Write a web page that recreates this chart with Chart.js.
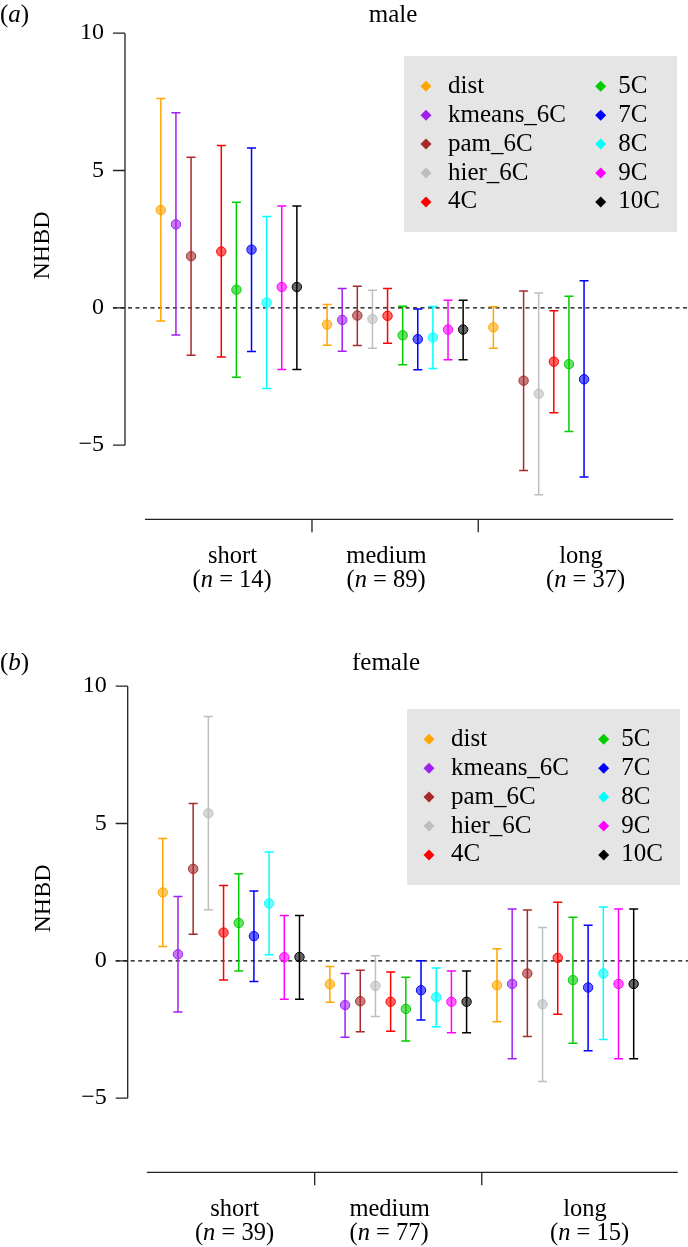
<!DOCTYPE html>
<html lang="en">
<head>
<meta charset="UTF-8">
<title>NHBD by distance class</title>
<script src="https://cdn.jsdelivr.net/npm/chart.js@4"></script>
<style>
    html, body { margin: 0; padding: 0; background: #ffffff; overflow: hidden; }
    .panel { position: absolute; left: 0; }
    #maleBox { top: 0; }
    #femaleBox { top: 653px; }
    canvas { display: block; }
</style>
</head>
<body>
<div class="panel" id="maleBox"><canvas id="maleChart" width="688" height="653"></canvas></div>
<div class="panel" id="femaleBox"><canvas id="femaleChart" width="688" height="594"></canvas></div>
<script>
    // groups along the x axis and sample sizes
    const groups = ['short', 'medium', 'long'];
    const maleN = [14, 89, 37];
    const femaleN = [39, 77, 15];

    const seriesNames = ['dist', 'kmeans_6C', 'pam_6C', 'hier_6C', '4C', '5C', '7C', '8C', '9C', '10C'];
    const seriesColors = ['#FFA500', '#A020F0', '#A52A2A', '#BEBEBE', '#FF0000', '#00CD00', '#0000FF', '#00FFFF', '#FF00FF', '#000000'];
    const yTicks = [-5, 0, 5, 10];

    // one row per series, one column per group (short, medium, long); null = not estimated
    const maleMid = [
        [3.56, -0.61, -0.71],
        [3.04, -0.44, null],
        [1.88, -0.28, -2.65],
        [null, -0.41, -3.13],
        [2.05, -0.29, -1.96],
        [0.66, -1.00, -2.05],
        [2.12, -1.14, -2.60],
        [0.19, -1.08, null],
        [0.76, -0.79, null],
        [0.76, -0.79, null]
    ];
    const maleLow = [
        [-0.48, -1.36, -1.47],
        [-0.99, -1.58, null],
        [-1.73, -1.37, -5.92],
        [null, -1.47, -6.80],
        [-1.79, -1.29, -3.82],
        [-2.53, -2.07, -4.50],
        [-1.59, -2.25, -6.16],
        [-2.94, -2.21, null],
        [-2.24, -1.89, null],
        [-2.24, -1.89, null]
    ];
    const maleHigh = [
        [7.62, 0.12, 0.04],
        [7.10, 0.70, null],
        [5.48, 0.79, 0.61],
        [null, 0.64, 0.54],
        [5.91, 0.70, -0.11],
        [3.84, 0.06, 0.42],
        [5.82, -0.04, 0.99],
        [3.33, 0.05, null],
        [3.71, 0.28, null],
        [3.71, 0.28, null]
    ];

    const femaleMid = [
        [2.49, -0.85, -0.89],
        [0.24, -1.61, -0.84],
        [3.35, -1.47, -0.46],
        [5.37, -0.91, -1.58],
        [1.03, -1.49, 0.11],
        [1.38, -1.75, -0.70],
        [0.90, -1.07, -0.97],
        [2.09, -1.32, -0.46],
        [0.13, -1.49, -0.84],
        [0.14, -1.49, -0.84]
    ];
    const femaleLow = [
        [0.52, -1.51, -2.22],
        [-1.86, -2.78, -3.56],
        [0.97, -2.58, -2.75],
        [1.86, -2.03, -4.39],
        [-0.70, -2.56, -1.94],
        [-0.37, -2.92, -3.00],
        [-0.75, -2.15, -3.27],
        [0.22, -2.40, -2.86],
        [-1.40, -2.62, -3.56],
        [-1.40, -2.62, -3.56]
    ];
    const femaleHigh = [
        [4.45, -0.21, 0.44],
        [2.34, -0.46, 1.89],
        [5.73, -0.34, 1.85],
        [8.90, 0.19, 1.21],
        [2.74, -0.41, 2.13],
        [3.17, -0.60, 1.59],
        [2.54, 0.00, 1.30],
        [3.96, -0.26, 1.96],
        [1.65, -0.37, 1.89],
        [1.65, -0.37, 1.89]
    ];

    const FONT = "'Liberation Serif', 'Times New Roman', serif";
    const SLOTS_PER_GROUP = 11; // 10 series + 1 gap

    function fade(hex, a) {
        const n = parseInt(hex.slice(1), 16);
        return `rgba(${n >> 16}, ${(n >> 8) & 255}, ${n & 255}, ${a})`;
    }

    function buildDatasets(mid, lo, hi) {
        return seriesNames.map((name, s) => ({
            label: name,
            data: groups.map((g, gi) => mid[s][gi] === null ? null :
                { x: gi * SLOTS_PER_GROUP + s, y: mid[s][gi], lo: lo[s][gi], hi: hi[s][gi] }).filter(p => p),
            backgroundColor: fade(seriesColors[s], 0.6),
            borderColor: seriesColors[s],
            pointRadius: 4.7,
            pointBorderWidth: 1,
            showLine: false
        }));
    }

    // text made of upright / italic pieces
    function drawMixed(ctx, parts, x, y, align, size) {
        const widths = parts.map(([t, it]) => { ctx.font = (it ? 'italic ' : '') + size + 'px ' + FONT; return ctx.measureText(t).width; });
        const total = widths.reduce((a, b) => a + b, 0);
        let cx = align === 'center' ? x - total / 2 : x;
        ctx.textAlign = 'left';
        parts.forEach(([t, it], i) => {
            ctx.font = (it ? 'italic ' : '') + size + 'px ' + FONT;
            ctx.fillText(t, cx, y);
            cx += widths[i];
        });
    }

    const decorPlugin = {
        id: 'decor',
        beforeDatasetsDraw(chart, args, o) {
            const ctx = chart.ctx, ys = chart.scales.y;
            const y0 = ys.getPixelForValue(0);
            ctx.save();
            ctx.strokeStyle = '#000';
            ctx.lineWidth = 1.2;
            ctx.setLineDash([4, 3.5]);
            ctx.beginPath();
            ctx.moveTo(o.axisX - 12, y0);
            ctx.lineTo(chart.width, y0);
            ctx.stroke();
            ctx.restore();
        },
        afterDatasetsDraw(chart) {
            const ctx = chart.ctx, xs = chart.scales.x, ys = chart.scales.y;
            chart.data.datasets.forEach(ds => {
                ctx.save();
                ctx.strokeStyle = ds.borderColor;
                ctx.lineWidth = 1.5;
                ds.data.forEach(p => {
                    const px = xs.getPixelForValue(p.x);
                    const yl = ys.getPixelForValue(p.lo), yh = ys.getPixelForValue(p.hi);
                    ctx.beginPath();
                    ctx.moveTo(px, yh); ctx.lineTo(px, yl);
                    ctx.moveTo(px - 4.5, yh); ctx.lineTo(px + 4.5, yh);
                    ctx.moveTo(px - 4.5, yl); ctx.lineTo(px + 4.5, yl);
                    ctx.stroke();
                });
                ctx.restore();
            });
        },
        afterDraw(chart, args, o) {
            const ctx = chart.ctx, xs = chart.scales.x, ys = chart.scales.y;
            ctx.save();
            ctx.fillStyle = '#000';
            ctx.strokeStyle = '#222';
            ctx.lineWidth = 1.3;

            // y axis
            const ax = o.axisX;
            ctx.beginPath();
            ctx.moveTo(ax, ys.getPixelForValue(yTicks[yTicks.length - 1]));
            ctx.lineTo(ax, ys.getPixelForValue(yTicks[0]));
            yTicks.forEach(t => {
                const y = ys.getPixelForValue(t);
                ctx.moveTo(ax - 12, y); ctx.lineTo(ax, y);
            });
            ctx.stroke();
            ctx.font = '24px ' + FONT;
            ctx.textAlign = 'right';
            ctx.textBaseline = 'middle';
            yTicks.forEach(t => ctx.fillText(t < 0 ? '\u2212' + (-t) : String(t), ax - 21, ys.getPixelForValue(t)));

            ctx.save();
            ctx.translate(o.shift + 43, ys.getPixelForValue(2.27));
            ctx.rotate(-Math.PI / 2);
            ctx.textAlign = 'center';
            ctx.fillText('NHBD', 0, 0);
            ctx.restore();

            // x axis below the plot, ticks between groups
            const xl = ys.getPixelForValue(-7.7);
            ctx.beginPath();
            ctx.moveTo(xs.getPixelForValue(-1.05), xl);
            ctx.lineTo(xs.getPixelForValue(33.9), xl);
            [1, 2].forEach(g => {
                const px = xs.getPixelForValue(g * SLOTS_PER_GROUP - 1);
                ctx.moveTo(px, xl); ctx.lineTo(px, xl + 13);
            });
            ctx.stroke();
            const labelSlots = [4.74, 14.93, 27.8];
            const nSlots = [4.72, 14.9, 28.1];
            groups.forEach((g, i) => {
                ctx.font = '24.5px ' + FONT;
                ctx.textAlign = 'center';
                ctx.fillText(g, xs.getPixelForValue(labelSlots[i]), xl + 37.5);
                drawMixed(ctx, [['(', false], ['n', true], [' = ' + o.n[i] + ')', false]],
                    xs.getPixelForValue(nSlots[i]), xl + 61, 'center', 24.5);
            });

            // title and panel letter
            ctx.textBaseline = 'alphabetic';
            ctx.font = '25px ' + FONT;
            ctx.textAlign = 'center';
            ctx.fillText(o.title, o.titleX, o.titleBase);
            drawMixed(ctx, [['(', false], [o.letter, true], [')', false]], 0, o.titleBase, 'left', 25);

            // legend box
            const L = o.legend;
            ctx.fillStyle = '#E5E5E5';
            ctx.fillRect(L.left, L.top, 273, 176);
            ctx.textBaseline = 'middle';
            ctx.font = '25px ' + FONT;
            ctx.textAlign = 'left';
            seriesNames.forEach((name, s) => {
                const col = Math.floor(s / 5), row = s % 5;
                const y = L.top + 30.3 + row * 28.9;
                const mx = L.left + (col ? 196.7 : 22);
                ctx.fillStyle = seriesColors[s];
                ctx.beginPath();
                ctx.moveTo(mx, y - 5.5); ctx.lineTo(mx + 5.5, y);
                ctx.lineTo(mx, y + 5.5); ctx.lineTo(mx - 5.5, y);
                ctx.closePath();
                ctx.fill();
                ctx.fillStyle = '#000';
                ctx.fillText(name, L.left + (col ? 214.3 : 44), y);
            });
            ctx.restore();
        }
    };

    function makePanel(canvasId, datasets, p) {
        return new Chart(document.getElementById(canvasId), {
            type: 'scatter',
            data: { datasets },
            options: {
                responsive: false,
                animation: false,
                devicePixelRatio: 1,
                layout: { padding: p.padding },
                scales: {
                    x: { type: 'linear', min: -2, max: p.xMax, display: false },
                    y: { type: 'linear', min: -8, max: 11, display: false }
                },
                plugins: {
                    legend: { display: false },
                    tooltip: { enabled: false },
                    decor: p.decor
                }
            },
            plugins: [decorPlugin]
        });
    }

    makePanel('maleChart', buildDatasets(maleMid, maleLow, maleHigh), {
        xMax: 34.5,
        padding: { left: 130.6, right: 2.6, top: 1.3, bottom: 125.4 },
        decor: { axisX: 125, shift: 0, n: maleN, title: 'male', titleX: 393, titleBase: 21.5, letter: 'a',
                 legend: { left: 404, top: 56 } }
    });

    makePanel('femaleChart', buildDatasets(femaleMid, femaleLow, femaleHigh), {
        xMax: 34.2,
        padding: { left: 132.4, right: 1.7, top: 1.3, bottom: 66.4 },
        decor: { axisX: 127.7, shift: 0.5, n: femaleN, title: 'female', titleX: 386, titleBase: 17, letter: 'b',
                 legend: { left: 407, top: 56 } }
    });
</script>
</body>
</html>
